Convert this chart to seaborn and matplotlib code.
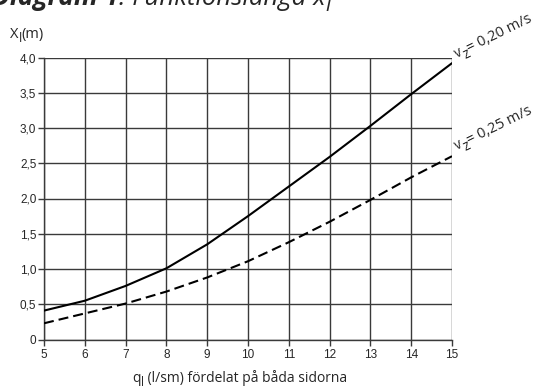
import math
import matplotlib
matplotlib.use("Agg")
import matplotlib.pyplot as plt
import seaborn as sns
import pandas as pd

q_values = [5, 6, 7, 8, 9, 10, 11, 12, 13, 14, 15]
x_v020 = [0.41, 0.55, 0.76, 1.01, 1.35, 1.75, 2.17, 2.59, 3.03, 3.48, 3.92]
x_v025 = [0.23, 0.37, 0.51, 0.68, 0.88, 1.11, 1.38, 1.67, 1.98, 2.30, 2.60]
series_names = ["0,20", "0,25"]
y_ticks = [0, 0.5, 1.0, 1.5, 2.0, 2.5, 3.0, 3.5, 4.0]
y_tick_labels = ["0", "0,5", "1,0", "1,5", "2,0", "2,5", "3,0", "3,5", "4,0"]
x_ticks = [5, 6, 7, 8, 9, 10, 11, 12, 13, 14, 15]

df = pd.DataFrame({
    "q": q_values * 2,
    "X": x_v020 + x_v025,
    "v": [series_names[0]] * len(q_values) + [series_names[1]] * len(q_values),
})

sns.set_style("white")
plt.rcParams["font.family"] = ["Liberation Sans", "DejaVu Sans"]

W, H = 539, 391
fig = plt.figure(figsize=(W / 100, H / 100), dpi=100)
ax = fig.add_axes([44 / W, 1 - 339.5 / H, (452 - 44) / W, (339.5 - 57.5) / H])

sns.lineplot(data=df, x="q", y="X", style="v", color="black", linewidth=1.5,
             dashes={series_names[0]: "", series_names[1]: (4.8, 2.4)},
             legend=False, ax=ax, zorder=3)

ax.set_xlim(5, 15)
ax.set_ylim(0, 4.0)
ax.set_xticks(x_ticks)
ax.set_xticklabels([str(t) for t in x_ticks])
ax.set_yticks(y_ticks)
ax.set_yticklabels(y_tick_labels)
ax.grid(True, color="#3a3a3a", linewidth=1.0, zorder=1)
for s in ["top", "right"]:
    ax.spines[s].set_visible(False)
for s in ["left", "bottom"]:
    ax.spines[s].set_color("#3a3a3a")
    ax.spines[s].set_linewidth(1.0)
ax.tick_params(axis="both", which="both", direction="out", length=4, width=1,
               color="#3a3a3a", labelsize=8.5, left=True, bottom=True)
ax.tick_params(axis="x", pad=3)
ax.tick_params(axis="y", pad=1.5)
ax.set_xlabel("")
ax.set_ylabel("")

lab_font = ["Open Sans", "DejaVu Sans"]
renderer = fig.canvas.get_renderer()


def piece_width(s, size, **kw):
    t = fig.text(0, 0, s, family=lab_font, fontsize=size, **kw)
    w = t.get_window_extent(renderer).width
    t.remove()
    return w


def seq_text(x0, y0, pieces, angle=0.0, align="left"):
    """x0, y0 in pixels from top-left; pieces = (text, size, drop_px, kwargs)."""
    widths = [piece_width(s, sz, **kw) for s, sz, dy, kw in pieces]
    total = sum(widths)
    a = math.radians(angle)
    ux, uy = math.cos(a), math.sin(a)
    px, py = -math.sin(a), math.cos(a)
    if align == "center":
        start = -total / 2
    elif align == "right":
        start = -total
    else:
        start = 0.0
    bx, by = x0, H - y0
    adv = start
    for (s, sz, dy, kw), w in zip(pieces, widths):
        x = bx + ux * adv - px * dy
        y = by + uy * adv - py * dy
        fig.text(x / W, y / H, s, family=lab_font, fontsize=sz, rotation=angle,
                 rotation_mode="anchor", ha="left", va="baseline", **kw)
        adv += w


# y axis label
seq_text(10, 38, [("X", 10.5, 0, {}), ("l", 9, 4, {}), ("(m)", 10.5, 0, {})])
# x axis label
seq_text(240, 382, [("q", 10, 0, {}), ("l", 8.5, 4, {}),
                    (" (l/sm) fördelat på båda sidorna", 10, 0, {})], align="center")

# curve annotations
for y0, txt in [(58, "= 0,20 m/s"), (150, "= 0,25 m/s")]:
    seq_text(457, y0, [("v", 10, 0, {}), ("z", 10, 5, {}), (txt, 10.5, 0, {})], angle=26)

# title (cut off at top edge as in the reference)
it = {"fontstyle": "italic"}
seq_text(119, 5, [("Diagram 1", 19, 0, {"fontstyle": "italic", "fontweight": "bold"})],
         align="right")
seq_text(119, 5, [(": Funktionslängd x", 18.5, 0, it), ("l", 15, 6, it)])

fig.savefig("out.png", dpi=100)
